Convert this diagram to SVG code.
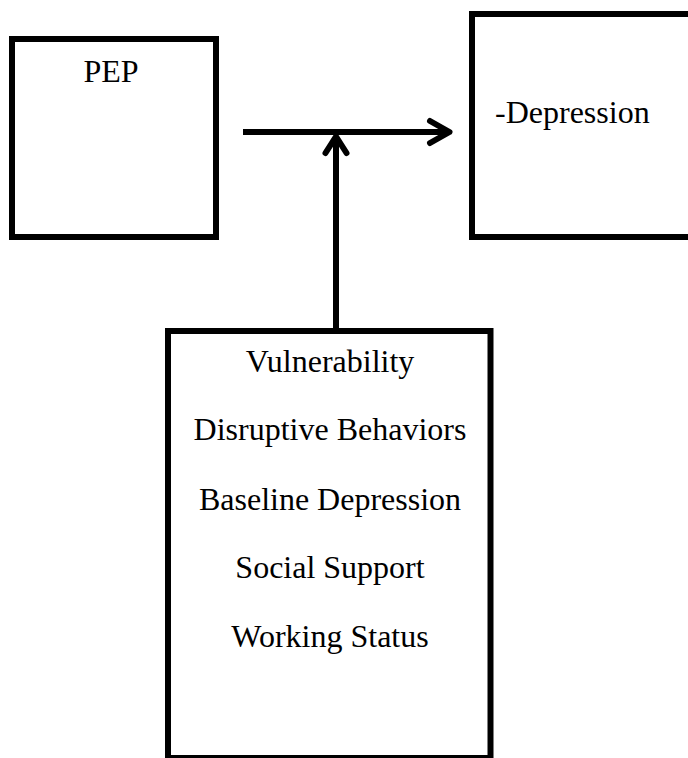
<svg xmlns="http://www.w3.org/2000/svg" width="688" height="758" viewBox="0 0 688 758">
<style>
.box{fill:#fff;stroke:#000;stroke-width:6}
.t{font-family:"Liberation Serif","Times New Roman",serif;font-size:32px;fill:#000}
.c{text-anchor:middle}
.ln{fill:none;stroke:#000;stroke-width:6}
.hd{fill:none;stroke:#000;stroke-width:6;stroke-linecap:round;stroke-linejoin:round}
</style>
<rect width="688" height="758" fill="#fff"/>
<g id="pep">
<rect class="box" x="12" y="39" width="204" height="198"/>
<text class="t c" x="111" y="82">PEP</text>
</g>
<g id="depression">
<rect class="box" x="472" y="14" width="230" height="223"/>
<text class="t" x="495" y="123">-Depression</text>
</g>
<g id="moderators">
<rect class="box" x="168" y="331" width="322.5" height="427"/>
<text class="t c" x="330" y="372">Vulnerability</text>
<text class="t c" x="330" y="440">Disruptive Behaviors</text>
<text class="t c" x="330" y="510">Baseline Depression</text>
<text class="t c" x="330" y="578">Social Support</text>
<text class="t c" x="330" y="647">Working Status</text>
</g>
<g id="connectors">
<line class="ln" x1="243" y1="132" x2="449" y2="132"/>
<polyline class="hd" points="430,121 449.5,132 430,143"/>
<line class="ln" x1="336" y1="137" x2="336" y2="331"/>
<polyline class="hd" points="325.5,153 336,136.5 346.5,153"/>
</g>
</svg>
